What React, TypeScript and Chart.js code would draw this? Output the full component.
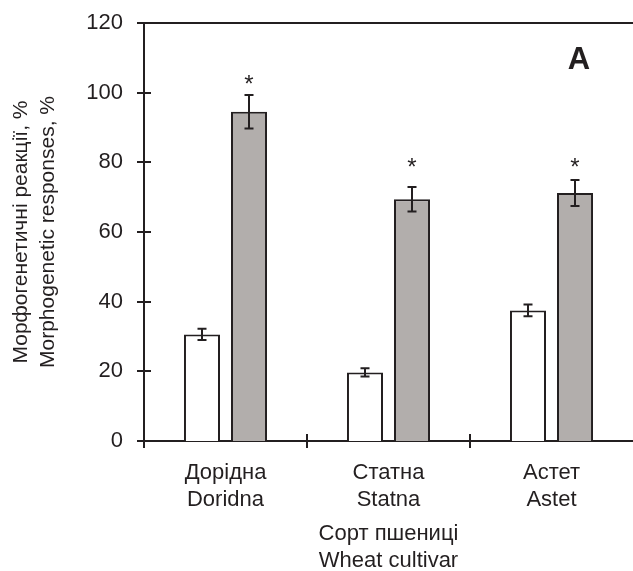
import React, { useEffect, useRef } from "react";
import { Chart, registerables } from "chart.js";

Chart.register(...registerables);

const cultivarsUk = ["Дорідна", "Статна", "Астет"];
const cultivarsEn = ["Doridna", "Statna", "Astet"];
const controlValues = [30.6, 19.7, 37.5];
const controlErrors = [1.6, 1.2, 1.7];
const treatedValues = [94.5, 69.4, 71.2];
const treatedErrors = [4.8, 3.5, 3.7];
const starLevels = [103.9, 80.0, 80.0];
const yTicks = [0, 20, 40, 60, 80, 100, 120];
const yTitle = ["Морфогенетичні реакції, %", "Morphogenetic responses, %"];
const xTitle = ["Сорт пшениці", "Wheat cultivar"];
const panelLabel = "A";

const INK = "#231f20";
const FONT = "'Liberation Sans', Arial, sans-serif";

const overlayPlugin = {
  id: "overlay",
  afterDraw(chart: any) {
    const ctx = chart.ctx;
    const ys = chart.scales.y;
    const xs = chart.scales.x;
    const area = chart.chartArea;
    ctx.save();
    ctx.strokeStyle = INK;
    ctx.fillStyle = INK;
    ctx.lineWidth = 2;

    // y ticks crossing the axis, and top line at max
    yTicks.forEach((v) => {
      const py = Math.round(ys.getPixelForValue(v));
      ctx.beginPath();
      ctx.moveTo(area.left - 7, py);
      ctx.lineTo(v === yTicks[yTicks.length - 1] ? area.right : area.left + 7, py);
      ctx.stroke();
    });

    // x ticks at category boundaries
    const n = cultivarsUk.length;
    for (let i = 0; i < n; i++) {
      let px;
      if (i === 0) px = area.left;
      else px = (xs.getPixelForValue(i - 1) + xs.getPixelForValue(i)) / 2;
      px = Math.round(px);
      ctx.beginPath();
      ctx.moveTo(px, area.bottom - 7);
      ctx.lineTo(px, area.bottom + 7);
      ctx.stroke();
    }

    // error bars
    const sets = [
      { vals: controlValues, errs: controlErrors },
      { vals: treatedValues, errs: treatedErrors },
    ];
    sets.forEach((s, di) => {
      const meta = chart.getDatasetMeta(di);
      meta.data.forEach((el: any, i: number) => {
        const x = Math.round(el.x);
        const yt = ys.getPixelForValue(s.vals[i] + s.errs[i]);
        const yb = ys.getPixelForValue(s.vals[i] - s.errs[i]);
        ctx.beginPath();
        ctx.moveTo(x, yt);
        ctx.lineTo(x, yb);
        ctx.moveTo(x - 4.5, yt);
        ctx.lineTo(x + 4.5, yt);
        ctx.moveTo(x - 4.5, yb);
        ctx.lineTo(x + 4.5, yb);
        ctx.stroke();
      });
    });

    // significance stars
    ctx.font = `24px ${FONT}`;
    ctx.textAlign = "center";
    ctx.textBaseline = "alphabetic";
    const m = ctx.measureText("*");
    const shift = (m.actualBoundingBoxAscent - m.actualBoundingBoxDescent) / 2;
    const meta1 = chart.getDatasetMeta(1);
    meta1.data.forEach((el: any, i: number) => {
      const py = ys.getPixelForValue(starLevels[i]);
      ctx.fillText("*", el.x, py + shift);
    });

    // panel label
    ctx.font = `bold 31px ${FONT}`;
    ctx.textAlign = "center";
    ctx.textBaseline = "middle";
    ctx.fillText(panelLabel, 579, 60);
    ctx.restore();
  },
};

export default function App() {
  const ref = useRef<HTMLCanvasElement>(null);
  useEffect(() => {
    document.body.style.margin = "0";
    const labels = cultivarsUk.map((u, i) => [u, cultivarsEn[i]]);
    const chart = new Chart(ref.current!, {
      type: "bar",
      data: {
        labels,
        datasets: [
          {
            data: controlValues,
            backgroundColor: "#ffffff",
            borderColor: INK,
            borderWidth: 2,
            categoryPercentage: 0.577,
            barPercentage: 0.766,
          },
          {
            data: treatedValues,
            backgroundColor: "#b2aeac",
            borderColor: INK,
            borderWidth: 2,
            categoryPercentage: 0.577,
            barPercentage: 0.766,
          },
        ],
      },
      options: {
        animation: false,
        responsive: false,
        maintainAspectRatio: false,
        layout: { padding: { top: 23, right: 0, left: 0, bottom: 0 } },
        plugins: { legend: { display: false }, tooltip: { enabled: false } },
        scales: {
          x: {
            grid: { display: false, drawTicks: false },
            border: { display: true, color: INK, width: 2 },
            ticks: {
              color: INK,
              font: { family: FONT, size: 22, lineHeight: 1.24 },
              padding: 18,
              maxRotation: 0,
              autoSkip: false,
            },
            title: {
              display: true,
              text: xTitle,
              color: INK,
              font: { family: FONT, size: 22, lineHeight: 1.24 },
              padding: { top: 0, bottom: -4 },
            },
            afterFit: (s: any) => {
              s.height = 130;
              s.paddingLeft = 0;
              s.paddingRight = 0;
            },
          },
          y: {
            min: 0,
            max: 120,
            grid: { display: false, drawTicks: false },
            border: { display: true, color: INK, width: 2 },
            ticks: {
              stepSize: 20,
              color: INK,
              font: { family: FONT, size: 22 },
              padding: 21,
            },
            title: {
              display: true,
              text: yTitle,
              color: INK,
              font: { family: FONT, size: 21, lineHeight: 1.29 },
              padding: { top: 8, bottom: 0 },
            },
            afterFit: (s: any) => {
              s.width = 144;
              s.paddingTop = 0;
              s.paddingBottom = 0;
            },
          },
        },
      },
      plugins: [overlayPlugin],
    });
    return () => chart.destroy();
  }, []);
  return (
    <div style={{ width: 633, height: 571 }}>
      <canvas ref={ref} width={633} height={571} style={{ display: "block" }} />
    </div>
  );
}
